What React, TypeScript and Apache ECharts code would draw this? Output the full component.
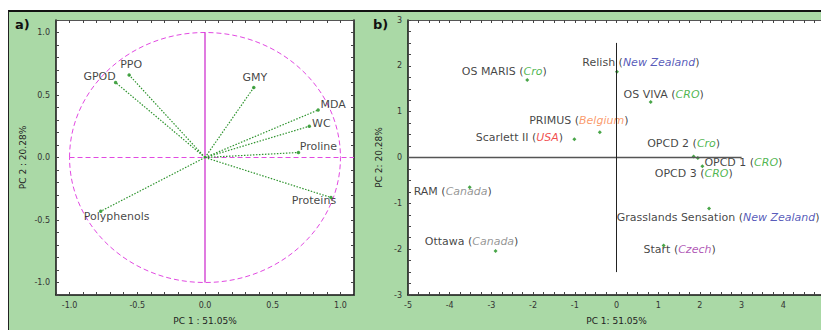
import React, { useEffect, useRef } from 'react';
import * as echarts from 'echarts';

// ---- Panel a) loadings ----
const variableNames = ['PPO', 'GPOD', 'GMY', 'MDA', 'WC', 'Proline', 'Proteins', 'Polyphenols'];
const variablePC1 = [-0.56, -0.66, 0.36, 0.835, 0.77, 0.69, 0.93, -0.77];
const variablePC2 = [0.66, 0.60, 0.56, 0.38, 0.25, 0.04, -0.32, -0.43];

// ---- Panel b) scores ----
const cultivarNames = ['OS MARIS', 'Relish', 'OS VIVA', 'PRIMUS', 'Scarlett II', 'OPCD 2', 'OPCD 1', 'OPCD 3', 'RAM', 'Grasslands Sensation', 'Ottawa', 'Start'];
const cultivarOrigins = ['Cro', 'New Zealand', 'CRO', 'Belgium', 'USA', 'Cro', 'CRO', 'CRO', 'Canada', 'New Zealand', 'Canada', 'Czech'];
const cultivarPC1 = [-2.14, 0.01, 0.82, -0.40, -1.01, 1.85, 2.06, 1.95, -3.52, 2.22, -2.90, 1.13];
const cultivarPC2 = [1.69, 1.87, 1.21, 0.55, 0.40, 0.02, -0.19, -0.01, -0.65, -1.11, -2.04, -1.92];

// ---- layout / style (pixel offsets of label centres from their points) ----
const variableLabelOffsets: number[][] = [
  [2, -11], [-16, -6], [1, -10], [15, -6], [12, -3], [20, -6], [-17, 3], [16, 5],
];
const cultivarLabelOffsets: number[][] = [
  [-23, -9], [24, -9], [13, -8], [-21, -12], [-55, -2], [-10, -13], [41, -4], [-4, 16], [-17, 4], [9, 9], [-24, -10], [16, 4],
];
const originStyleKey: Record<string, string> = {
  'Cro': 'green', 'CRO': 'green', 'New Zealand': 'blue', 'Belgium': 'orange', 'USA': 'red', 'Canada': 'gray', 'Czech': 'purple',
};

const GREEN_BG = '#aad9a6';
const MAGENTA = '#e24ae2';
const VEC_GREEN = '#2f942f';
const DOT_GREEN = '#1a8f1a';
const FONT = 'DejaVu Sans';
const TEXT = '#111';

const isMultiple = (v: number, step: number) => Math.abs(v / step - Math.round(v / step)) < 1e-6;
const noBorder = { textBorderWidth: 0, textBorderColor: 'transparent', textShadowBlur: 0 };

function buildOption(): any {
  const tickStyle = { inside: true, length: 3, lineStyle: { color: '#444', width: 1 } };
  const axisLabelBase = { fontSize: 8, color: '#333', fontFamily: FONT, margin: 6 };
  const nameStyle = { fontSize: 9, color: '#222', fontFamily: FONT };

  const mainLine = { show: true, onZero: false, lineStyle: { color: '#111', width: 1.5 } };
  const mirrorLine = { show: true, onZero: false, lineStyle: { color: '#555', width: 1 } };

  const xAxis = [
    {
      gridIndex: 0, type: 'value', min: -1.1, max: 1.1, interval: 0.1, position: 'bottom',
      axisLine: mainLine, axisTick: tickStyle, splitLine: { show: false },
      axisLabel: { ...axisLabelBase, formatter: (v: number) => (isMultiple(v, 0.5) ? v.toFixed(1) : '') },
      name: 'PC 1 : 51.05%', nameLocation: 'middle', nameGap: 21, nameTextStyle: nameStyle,
    },
    {
      gridIndex: 0, type: 'value', min: -1.1, max: 1.1, interval: 0.1, position: 'top',
      axisLine: mirrorLine, axisTick: tickStyle, axisLabel: { show: false }, splitLine: { show: false },
    },
    {
      gridIndex: 1, type: 'value', min: -5, max: 5, interval: 0.25, position: 'bottom',
      axisLine: mainLine, axisTick: tickStyle, splitLine: { show: false },
      axisLabel: { ...axisLabelBase, formatter: (v: number) => (isMultiple(v, 1) && v < 4.5 ? String(Math.round(v)) : '') },
      name: 'PC 1: 51.05%', nameLocation: 'middle', nameGap: 21, nameTextStyle: nameStyle,
    },
    {
      gridIndex: 1, type: 'value', min: -5, max: 5, interval: 0.25, position: 'top',
      axisLine: mirrorLine, axisTick: tickStyle, axisLabel: { show: false }, splitLine: { show: false },
    },
  ];

  const yAxis = [
    {
      gridIndex: 0, type: 'value', min: -1.1, max: 1.1, interval: 0.1, position: 'left',
      axisLine: mainLine, axisTick: tickStyle, splitLine: { show: false },
      axisLabel: { ...axisLabelBase, formatter: (v: number) => (isMultiple(v, 0.5) ? v.toFixed(1) : '') },
      name: 'PC 2 : 20.28%', nameLocation: 'middle', nameGap: 29, nameTextStyle: nameStyle,
    },
    {
      gridIndex: 0, type: 'value', min: -1.1, max: 1.1, interval: 0.1, position: 'right',
      axisLine: mainLine, axisTick: tickStyle, axisLabel: { show: false }, splitLine: { show: false },
    },
    {
      gridIndex: 1, type: 'value', min: -3, max: 3, interval: 0.25, position: 'left',
      axisLine: mainLine, axisTick: tickStyle, splitLine: { show: false },
      axisLabel: { ...axisLabelBase, formatter: (v: number) => (isMultiple(v, 1) ? String(Math.round(v)) : '') },
      name: 'PC 2: 20.28%', nameLocation: 'middle', nameGap: 20, nameTextStyle: nameStyle,
    },
    {
      gridIndex: 1, type: 'value', min: -3, max: 3, interval: 0.25, position: 'right',
      axisLine: mirrorLine, axisTick: tickStyle, axisLabel: { show: false }, splitLine: { show: false },
    },
  ];

  const series: any[] = [];

  // unit circle
  series.push({
    type: 'custom', xAxisIndex: 0, yAxisIndex: 0, silent: true, clip: false,
    data: [[0, 0]],
    renderItem: (_p: any, api: any) => {
      const c = api.coord([0, 0]);
      const e = api.coord([1, 1]);
      return {
        type: 'ellipse',
        shape: { cx: c[0], cy: c[1], rx: e[0] - c[0], ry: c[1] - e[1] },
        style: { fill: 'none', stroke: MAGENTA, lineWidth: 1, lineDash: [5, 3] },
      };
    },
  });
  // horizontal dashed, vertical solid
  series.push({
    type: 'line', xAxisIndex: 0, yAxisIndex: 0, symbol: 'none', silent: true,
    data: [[-1, 0], [1.1, 0]], lineStyle: { color: MAGENTA, width: 1, type: [5, 3] },
  });
  series.push({
    type: 'line', xAxisIndex: 0, yAxisIndex: 0, symbol: 'none', silent: true,
    data: [[0, -1], [0, 1]], lineStyle: { color: '#cc22cc', width: 1.2 },
  });
  // vectors
  variableNames.forEach((_n, i) => {
    series.push({
      type: 'line', xAxisIndex: 0, yAxisIndex: 0, symbol: 'none', silent: true,
      data: [[0, 0], [variablePC1[i], variablePC2[i]]],
      lineStyle: { color: VEC_GREEN, width: 1.2, type: [1.5, 1.5] },
    });
  });
  series.push({
    type: 'scatter', xAxisIndex: 0, yAxisIndex: 0, symbol: 'circle', symbolSize: 3.5,
    itemStyle: { color: DOT_GREEN },
    data: variableNames.map((n, i) => ({
      name: n, value: [variablePC1[i], variablePC2[i]],
      label: { offset: variableLabelOffsets[i] },
    })),
    label: {
      show: true, position: 'inside', formatter: '{b}', color: TEXT, fontSize: 11, fontFamily: FONT,
      align: 'center', verticalAlign: 'middle', ...noBorder,
    },
  });

  // panel b axes lines
  series.push({
    type: 'line', xAxisIndex: 2, yAxisIndex: 2, symbol: 'none', silent: true,
    data: [[-5, 0], [3, 0]], lineStyle: { color: '#555', width: 1.3 },
  });
  series.push({
    type: 'line', xAxisIndex: 2, yAxisIndex: 2, symbol: 'none', silent: true,
    data: [[0, -2.5], [0, 2.5]], lineStyle: { color: '#222', width: 1 },
  });
  const italic = { fontStyle: 'italic', fontSize: 11, fontFamily: FONT, ...noBorder };
  series.push({
    type: 'scatter', xAxisIndex: 2, yAxisIndex: 2, symbol: 'diamond', symbolSize: 4,
    itemStyle: { color: DOT_GREEN },
    data: cultivarNames.map((n, i) => ({
      name: n, value: [cultivarPC1[i], cultivarPC2[i]],
      label: {
        offset: cultivarLabelOffsets[i],
        formatter: `{n|${n} (}{${originStyleKey[cultivarOrigins[i]]}|${cultivarOrigins[i]}}{n|)}`,
      },
    })),
    label: {
      show: true, position: 'inside', align: 'center', verticalAlign: 'middle',
      fontSize: 11, fontFamily: FONT, color: TEXT, ...noBorder,
      rich: {
        n: { color: TEXT, fontSize: 11, fontFamily: FONT, ...noBorder },
        green: { ...italic, color: '#22a322' },
        blue: { ...italic, color: '#2b2fa8' },
        orange: { ...italic, color: '#f97f45' },
        red: { ...italic, color: '#ee1c1c' },
        gray: { ...italic, color: '#7a7a7a' },
        purple: { ...italic, color: '#9b2ca3' },
      },
    },
  });

  return {
    animation: false,
    grid: [
      { left: 56, top: 20, width: 298, height: 277, show: true, backgroundColor: '#fff', borderWidth: 0 },
      { left: 408, top: 20, width: 417, height: 277, show: true, backgroundColor: '#fff', borderWidth: 0 },
    ],
    xAxis,
    yAxis,
    series,
    graphic: [
      { type: 'text', left: 15, top: 18, style: { text: 'a)', fontSize: 13, fontWeight: 'bold', fill: '#111', fontFamily: FONT } },
      { type: 'text', left: 373, top: 18, style: { text: 'b)', fontSize: 13, fontWeight: 'bold', fill: '#111', fontFamily: FONT } },
    ],
  };
}

export default function App() {
  const ref = useRef<HTMLDivElement>(null);
  useEffect(() => {
    if (!ref.current) return;
    const chart = echarts.init(ref.current, null, { renderer: 'svg' });
    chart.setOption(buildOption());
    return () => chart.dispose();
  }, []);
  return (
    <div style={{ position: 'fixed', left: 0, top: 0, width: 830, height: 330, background: '#fff', overflow: 'hidden' }}>
      <div
        style={{
          position: 'absolute', left: 8, top: 10, right: 0, bottom: 0, background: GREEN_BG,
          borderTop: '2px solid #111', borderLeft: '1px solid #222',
        }}
      />
      <div ref={ref} style={{ position: 'absolute', left: 0, top: 0, width: 830, height: 330 }} />
    </div>
  );
}
